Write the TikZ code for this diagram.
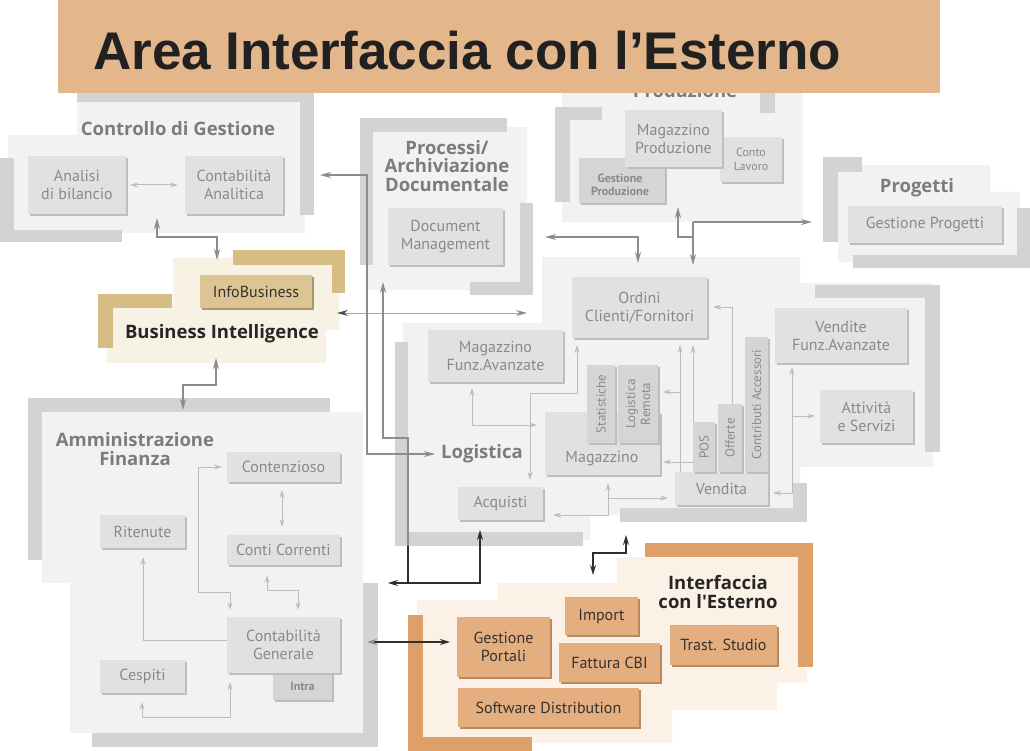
\documentclass[tikz,border=0pt]{standalone}
\usepackage{fontspec}
\usepackage{graphicx}
\setmainfont{PT Sans}
\newfontfamily\ttlfont{Liberation Sans}
\newfontfamily\grpfont{Open Sans}
\usetikzlibrary{arrows.meta,shadows}

\definecolor{panelg}{HTML}{F2F2F2}
\definecolor{barg}{HTML}{D3D3D3}
\definecolor{boxg}{HTML}{E1E1E1}
\definecolor{boxdg}{HTML}{D5D5D5}
\definecolor{shadg}{HTML}{BEBEBE}
\definecolor{txtg}{HTML}{8A8A8A}
\definecolor{ttlg}{HTML}{7C7C7C}
\definecolor{thinarr}{HTML}{BDBDBD}
\definecolor{medarr}{HTML}{8C8C8C}
\definecolor{darkarr}{HTML}{2E2E2E}
\definecolor{tanbar}{HTML}{D6BD86}
\definecolor{tanbox}{HTML}{DCC593}
\definecolor{tanpanel}{HTML}{F7F2E4}
\definecolor{tanshad}{HTML}{A89670}
\definecolor{orbar}{HTML}{DF9F69}
\definecolor{orbox}{HTML}{E4AE7F}
\definecolor{orpanel}{HTML}{FCF1E6}
\definecolor{orshad}{HTML}{B98A62}
\definecolor{headbar}{HTML}{E3B68B}

\newcommand\myfs[2]{\fontsize{#1}{#2}\selectfont}

\tikzset{
  boxbase/.style={align=center, inner sep=0pt, font=\myfs{16}{18}},
  gbox/.style={boxbase, fill=boxg, text=txtg,
     drop shadow={shadow xshift=2pt, shadow yshift=-2pt, fill=shadg, opacity=1}},
  dbox/.style={gbox, fill=boxdg, font=\bfseries\myfs{12}{14}},
  tabbox/.style={gbox, fill=boxdg, font=\myfs{13}{14}},
  tbox/.style={boxbase, fill=tanbox, text=black!80,
     drop shadow={shadow xshift=2pt, shadow yshift=-2pt, fill=tanshad, opacity=1}},
  obox/.style={boxbase, fill=orbox, text=black!80,
     drop shadow={shadow xshift=2pt, shadow yshift=-2pt, fill=orshad, opacity=1}},
  boxtext/.style={text=txtg, font=\myfs{16}{18}, inner sep=0pt, align=center},
  grptitle/.style={text=ttlg, font=\grpfont\bfseries\myfs{18.5}{18.5}, align=center, inner sep=0pt},
  thinarrow/.style={draw=thinarr, line width=1pt, >={Stealth[length=8pt,width=5pt]}},
  medarrow/.style={draw=medarr, line width=1.6pt, >={Stealth[length=11pt,width=6pt]}},
  darkarrow/.style={draw=darkarr, line width=1.4pt, >={Stealth[length=10pt,width=6pt]}},
}

\begin{document}
\begin{tikzpicture}[x=1pt,y=-1pt]
\useasboundingbox[fill=white] (0,0) rectangle (1030,751);

% ---------- panels ----------
\fill[panelg] (77,95) rectangle (305,233);
\fill[panelg] (8,135) rectangle (305,233);
\fill[panelg] (368,127) rectangle (527,290);
\fill[panelg] (562,93) rectangle (803,222);
\fill[panelg] (838,165) -- (990,165) -- (990,192) -- (1020,192) -- (1020,262) -- (838,262) -- cycle;
\fill[panelg] (403,323) -- (542,323) -- (542,257) -- (800,257) -- (800,515) -- (590,515) -- (590,540) -- (403,540) -- cycle;
\fill[panelg] (770,283) rectangle (933,467);
\fill[panelg] (42,412) -- (363,412) -- (363,733) -- (70,733) -- (70,583) -- (42,583) -- cycle;
\fill[tanpanel] (173,258) -- (339,258) -- (339,330) -- (326,330) -- (326,363) -- (107,363) -- (107,305) -- (173,305) -- cycle;
\fill[orpanel] (617,557) -- (807,557) -- (807,683) -- (777,683) -- (777,710) -- (672,710) -- (672,743) -- (417,743) -- (417,600) -- (498,600) -- (498,583) -- (617,583) -- cycle;

% ---------- bars ----------
\fill[barg] (77,93) rectangle (305,102);
\fill[barg] (300,93) rectangle (314,215);
\fill[barg] (0,158) rectangle (14,242);
\fill[barg] (0,230) rectangle (122,242);
\fill[barg] (360,118) rectangle (507,132);
\fill[barg] (360,118) rectangle (373,265);
\fill[barg] (520,203) rectangle (533,295);
\fill[barg] (470,282) rectangle (533,295);
\fill[barg] (555,107) rectangle (602,120);
\fill[barg] (555,107) rectangle (570,202);
\fill[barg] (760,93) rectangle (775,113);
\fill[barg] (823,157) rectangle (862,172);
\fill[barg] (823,157) rectangle (838,242);
\fill[barg] (1017,208) rectangle (1030,268);
\fill[barg] (853,255) rectangle (1030,268);
\fill[barg] (395,342) rectangle (408,546);
\fill[barg] (395,532) rectangle (583,546);
\fill[barg] (620,508) rectangle (807,522);
\fill[barg] (793,483) rectangle (807,522);
\fill[barg] (815,285) rectangle (940,298);
\fill[barg] (925,285) rectangle (940,452);
\fill[barg] (28,398) rectangle (330,412);
\fill[barg] (28,398) rectangle (42,560);
\fill[barg] (363,583) rectangle (378,747);
\fill[barg] (92,733) rectangle (378,747);
\fill[tanbar] (233,250) rectangle (345,265);
\fill[tanbar] (332,250) rectangle (345,293);
\fill[tanbar] (98,294) rectangle (172,308);
\fill[tanbar] (98,294) rectangle (113,348);
\fill[orbar] (645,543) rectangle (813,557);
\fill[orbar] (798,543) rectangle (813,667);
\fill[orbar] (408,615) rectangle (423,751);
\fill[orbar] (408,737) rectangle (532,751);

% ---------- group titles ----------
\node[grptitle, anchor=base] (tpd) at (685,98) {Produzione};
\node[grptitle] (tcg) at (178,129) {Controllo di Gestione};
\node[grptitle] (tpa) at (447,166) {Processi/\\Archiviazione\\Documentale};
\node[grptitle] (tpg) at (917,188) {Progetti};
\node[grptitle, text=black!85] (tbi) at (222,334) {Business Intelligence};
\node[grptitle] (lg) at (482,454) {Logistica};
\node[grptitle] (taf) at (135,449) {Amministrazione\\Finanza};
\node[grptitle, text=black!85] (tie) at (718,592) {Interfaccia\\con l'Esterno};

% ---------- header ----------
\fill[headbar] (58,0) rectangle (940,93);
\node[anchor=base west, inner sep=0pt, font=\ttlfont\bfseries\myfs{53}{60}, text=black!87] (ttl) at (93,70) {Area Interfaccia con l’Esterno};

% ---------- boxes ----------
\node[gbox, minimum width=98pt, minimum height=58pt] (ab) at (77,185) {Analisi\\di bilancio};
\node[gbox, minimum width=98pt, minimum height=58pt] (ca) at (234,185) {Contabilità\\Analitica};
\node[gbox, minimum width=115pt, minimum height=57pt] (dm) at (445.5,236.5) {Document\\Management};
\node[gbox, font=\myfs{12}{14}, minimum width=62pt, minimum height=45pt] (cl) at (751,159.5) {Conto\\Lavoro};
\node[dbox, minimum width=86pt, minimum height=45pt] (gp) at (622,180.5) {};
\node[text=txtg, font=\bfseries\myfs{12}{13}, align=center, inner sep=0pt] (gpt) at (620,185) {Gestione\\Produzione};
\node[gbox, minimum width=97pt, minimum height=57pt] (mp) at (673.5,138.5) {Magazzino\\Produzione};
\node[gbox, minimum width=154pt, minimum height=37pt] (gpr) at (925,224.5) {Gestione Progetti};
\node[tbox, minimum width=112pt, minimum height=33pt] (ib) at (256,291.5) {InfoBusiness};
\node[gbox, minimum width=135pt, minimum height=61pt] (ocf) at (639.5,307.5) {Ordini\\Clienti/Fornitori};
\node[gbox, minimum width=135pt, minimum height=52pt] (mfa) at (495.5,356) {Magazzino\\Funz.Avanzate};
\node[gbox, minimum width=115pt, minimum height=63pt] (mag) at (602.5,443.5) {};
\node[boxtext] (magt) at (602,459) {Magazzino};
\node[tabbox, minimum width=28pt, minimum height=78pt] (sta) at (601,404) {\rotatebox{90}{Statistiche}};
\node[tabbox, minimum width=40pt, minimum height=78pt] (lre) at (638,404) {\rotatebox{90}{\shortstack{Logistica\\Remota}}};
\node[gbox, minimum width=85pt, minimum height=33pt] (acq) at (500.5,503.5) {Acquisti};
\node[gbox, minimum width=93pt, minimum height=33pt] (ven) at (721.5,488.5) {Vendita};
\node[tabbox, minimum width=22pt, minimum height=50pt] (pos) at (704,447) {\rotatebox{90}{POS}};
\node[tabbox, minimum width=24pt, minimum height=68pt] (off) at (730,438) {\rotatebox{90}{Offerte}};
\node[tabbox, minimum width=23pt, minimum height=135pt] (cac) at (756.5,404.5) {\rotatebox{90}{Contributi Accessori}};
\node[gbox, minimum width=132pt, minimum height=55pt] (vfa) at (841,335.5) {Vendite\\Funz.Avanzate};
\node[gbox, minimum width=93pt, minimum height=53pt] (ats) at (866.5,416.5) {Attività\\e Servizi};
\node[gbox, minimum width=113pt, minimum height=30pt] (cnz) at (283.5,467) {Contenzioso};
\node[gbox, minimum width=85pt, minimum height=33pt] (rit) at (142.5,531.5) {Ritenute};
\node[gbox, minimum width=113pt, minimum height=30pt] (ccr) at (283.5,550) {Conti Correnti};
\node[dbox, minimum width=59pt, minimum height=27pt] (intra) at (302.5,686.5) {Intra};
\node[gbox, minimum width=113pt, minimum height=56pt] (cg) at (283.5,645) {Contabilità\\Generale};
\node[gbox, minimum width=85pt, minimum height=33pt] (ces) at (142.5,676.5) {Cespiti};
\node[obox, minimum width=73pt, minimum height=38pt] (imp) at (601.5,616) {Import};
\node[obox, minimum width=93pt, minimum height=60pt] (gpo) at (503.5,647) {Gestione\\Portali};
\node[obox, minimum width=101pt, minimum height=39pt] (fcb) at (609.5,662.5) {Fattura CBI};
\node[obox, minimum width=107pt, minimum height=40pt] (trs) at (723.5,645) {Trast. Studio};
\node[obox, minimum width=181pt, minimum height=39pt] (sd) at (548.5,707.5) {Software Distribution};

% ---------- connector end points ----------
\coordinate (cgB) at (157,218);
\coordinate (biT) at (217,260);
\coordinate (biB) at (216,358);
\coordinate (afT) at (183,410);
\coordinate (biR) at (337,313);
\coordinate (loL) at (527,313);
\coordinate (cgR) at (320,175);
\coordinate (paB) at (383,282);
\coordinate (afR) at (388,583);
\coordinate (loB) at (480,530);
\coordinate (paR) at (545,237);
\coordinate (ocT1) at (638,263);
\coordinate (pdB) at (678,207);
\coordinate (jH) at (693,222);
\coordinate (pgL) at (812,222);
\coordinate (ocT2) at (693,265);
\coordinate (mfaB) at (472,388);
\coordinate (magL) at (537,425);
\coordinate (ocB1) at (577,345);
\coordinate (acqT) at (530,480);
\coordinate (venT) at (680,472);
\coordinate (ocB2) at (680,345);
\coordinate (posT) at (693,422);
\coordinate (ocB3) at (693,345);
\coordinate (lrR) at (663,392);
\coordinate (posL) at (693,462);
\coordinate (magR) at (663,462);
\coordinate (offT) at (732,404);
\coordinate (ocR) at (713,307);
\coordinate (magB) at (608,483);
\coordinate (venL) at (668,498);
\coordinate (acqR) at (553,515);
\coordinate (venR) at (773,493);
\coordinate (vfaB) at (792,367);
\coordinate (atsL) at (815,416);
\coordinate (cnzB) at (282,490);
\coordinate (ccrT) at (282,527);
\coordinate (ccrB) at (267,575);
\coordinate (cgT1) at (298,610);
\coordinate (cnzL) at (222,467);
\coordinate (cgT2) at (230,610);
\coordinate (cgL) at (227,640);
\coordinate (ritB) at (143,557);
\coordinate (cesB) at (142,702);
\coordinate (cgB2) at (230,682);
\coordinate (afR2) at (367,642);
\coordinate (gpoL) at (450,642);
\coordinate (loB2) at (626,535);
\coordinate (ieT) at (593,575);

% ---------- connectors ----------
\draw[thinarrow,<->] ([xshift=4pt]ab.east) -- ([xshift=-7pt]ca.west);
\draw[medarrow,<->] (cgB) -- ++(0,19) -| (biT);
\draw[medarrow,<->] (biB) -- ++(0,27) -| (afT);
\draw[draw=medarr!80, line width=1pt,
  {Stealth[length=11pt,width=6pt,color=darkarr!85]}-{Stealth[length=11pt,width=6pt,color=medarr]}] (biR) -- (loL);
\draw[medarrow,<->,shorten >=6pt] (cgR) -- ++(47,0) |- (lg.west);
\draw[medarrow,<-] (paB) -- (383,438) -- (408,438) -- (408,548);
\draw[darkarrow,<->] (afR) -- (480,583) -- (loB);
\draw[darkarrow] (408,546) -- (408,583);
\draw[medarrow,<->] (paR) -| (ocT1);
\draw[medarrow,<-] (pdB) |- (693,237);
\draw[medarrow,->] (jH) -- (pgL);
\draw[medarrow,->] (jH) -- (ocT2);

\draw[thinarrow,<->] (mfaB) |- (magL);
\draw[thinarrow,<->] (ocB1) -- (577,393) -| (acqT);
\draw[thinarrow,->] (venT) -- (ocB2);
\draw[thinarrow,->] (posT) -- (ocB3);
\draw[thinarrow,->] (680,392) -- (lrR);
\draw[thinarrow,->] (posL) -- (magR);
\draw[thinarrow,->] (offT) |- (ocR);
\draw[thinarrow,<->] (acqR) -| (magB);
\draw[thinarrow,->] (608,498) -- (venL);
\draw[thinarrow,<->] (venR) -| (vfaB);
\draw[thinarrow,->] (792,416) -- (atsL);

\draw[thinarrow,<->] (cnzB) -- (ccrT);
\draw[thinarrow,<->] (ccrB) -- (267,590) -| (cgT1);
\draw[thinarrow,<->] (cnzL) -- (198,467) -- (198,592) -| (cgT2);
\draw[thinarrow,->] (cgL) -| (ritB);
\draw[thinarrow,<->] (cesB) -- (142,717) -| (cgB2);

\draw[draw=darkarr, line width=1.4pt,
  {Stealth[length=10pt,width=6pt,color=medarr]}-{Stealth[length=10pt,width=6pt]}] (afR2) -- (gpoL);
\draw[darkarrow,<->] (loB2) -- (626,553) -| (ieT);
\end{tikzpicture}
\end{document}
